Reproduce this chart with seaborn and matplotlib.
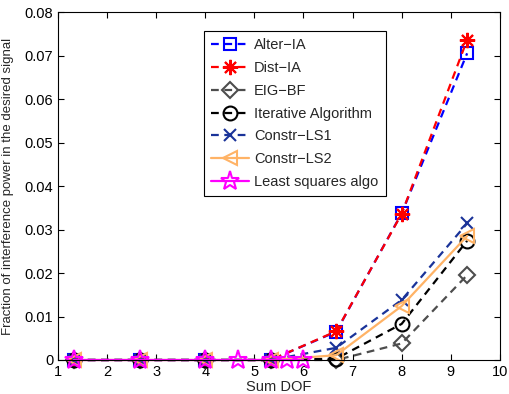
import matplotlib
matplotlib.use("Agg")
import matplotlib.pyplot as plt
import seaborn as sns

# data
dof = [4/3, 8/3, 4, 16/3, 20/3, 8, 28/3]
dof_ls = [4/3, 8/3, 4, 14/3, 16/3, 17/3, 6]

alter_ia = [0, 0, 0, 0, 0.0065, 0.0337, 0.0705]
dist_ia = [0, 0, 0, 0, 0.0066, 0.0336, 0.0736]
eig_bf = [0, 0, 0, 0, 0.0, 0.0038, 0.0195]
iterative = [0, 0, 0, 0, 0.0003, 0.0083, 0.0274]
constr_ls1 = [0, 0, 0, 0, 0.0028, 0.0138, 0.0314]
constr_ls2 = [0, 0, 0, 0, 0.0011, 0.0124, 0.0285]
least_sq = [0, 0, 0, 0, 0, 0, 0]

sns.set_style("ticks")
plt.rcParams['font.family'] = ['Liberation Sans', 'DejaVu Sans']

fig = plt.figure(figsize=(5.09, 3.94), dpi=100)
ax = fig.add_axes([0.114, 0.0863, 0.868, 0.8832])

series = [
    (dof, alter_ia, "Alter\u2212IA", "blue", "s", "--", 9),
    (dof, dist_ia, "Dist\u2212IA", "red", (8, 2, 0), "--", 11),
    (dof, eig_bf, "EIG\u2212BF", "#4d4d4d", "D", "--", 8),
    (dof, iterative, "Iterative Algorithm", "black", "o", "--", 10),
    (dof, constr_ls1, "Constr\u2212LS1", "#1a3399", "x", "--", 8),
    (dof, constr_ls2, "Constr\u2212LS2", "#ffb366", "<", "-", 10),
    (dof_ls, least_sq, "Least squares algo", "magenta", "*", "-", 14),
]

for x, y, name, col, mk, ls, ms in series:
    sns.lineplot(x=x, y=y, ax=ax, label=name, color=col, linestyle=ls,
                 linewidth=1.6, marker=mk, markersize=ms,
                 markerfacecolor="none", markeredgecolor=col,
                 markeredgewidth=1.5, clip_on=False)

for line in ax.lines:
    if line.get_linestyle() == "--":
        line.set_dashes((3.5, 2.5))

ax.set_xlim(1, 10)
ax.set_ylim(0, 0.08)
ax.set_xticks(range(1, 11))
yt = [0, 0.01, 0.02, 0.03, 0.04, 0.05, 0.06, 0.07, 0.08]
ax.set_yticks(yt)
ax.set_yticklabels(["0"] + ["%.2f" % v for v in yt[1:]])
ax.tick_params(direction="in", top=True, right=True, labelsize=10.5,
               length=4, width=0.8, colors="black")
for s in ax.spines.values():
    s.set_visible(True)
    s.set_color("black")
    s.set_linewidth(0.8)

ax.set_xlabel("Sum DOF", fontsize=10.5, labelpad=1)
ax.set_ylabel("Fraction of interference power in the desired signal", fontsize=9.5)
ax.yaxis.set_label_coords(-0.1, 0.5)

leg = ax.legend(loc="upper left", bbox_to_anchor=(0.33, 0.945), borderaxespad=0,
                fontsize=10.5, frameon=True, fancybox=False, framealpha=1,
                edgecolor="black", handlelength=2.6, labelspacing=0.6,
                handletextpad=0.35, borderpad=0.5)
leg.get_frame().set_linewidth(0.8)

fig.savefig("out.png", dpi=100)
